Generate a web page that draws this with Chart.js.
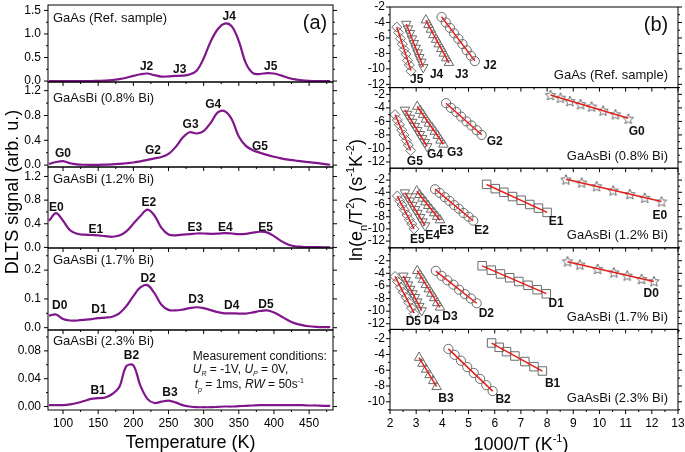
<!DOCTYPE html>
<html>
<head>
<meta charset="utf-8">
<script src="https://cdn.jsdelivr.net/npm/chart.js@4.4.1/dist/chart.umd.min.js"></script>
<style>
  html, body { margin: 0; padding: 0; background: #fff; }
  #wrap { position: relative; width: 685px; height: 452px; }
  #left { position: absolute; left: 0; top: 0; }
  #right { position: absolute; left: 340px; top: 0; }
</style>
</head>
<body>
<div id="wrap">
  <canvas id="left" width="340" height="452"></canvas>
  <canvas id="right" width="345" height="452"></canvas>
</div>
<script>
// ---- panel (a): DLTS spectra ----
const temperature = [80, 90, 100, 110, 120, 130, 140, 150, 160, 170, 180, 190, 200, 210, 220, 230, 240, 250, 260, 270,
  280, 290, 300, 310, 320, 330, 340, 350, 360, 370, 380, 390, 400, 410, 420, 430, 440, 450, 460, 470, 480];
const sigGaAs = [0, 0, 0, 0, 0, 0, 0, 0.005, 0.01, 0.02, 0.04, 0.07, 0.11, 0.145, 0.16, 0.125, 0.095, 0.1, 0.11, 0.115,
  0.14, 0.22, 0.48, 0.84, 1.1, 1.22, 1.16, 0.85, 0.38, 0.17, 0.15, 0.17, 0.16, 0.12, 0.07, 0.035, 0.015, 0.005, 0, 0, 0];
const sigBi08 = [0.02, 0.05, 0.065, 0.03, 0.012, 0.006, 0.005, 0.005, 0.008, 0.012, 0.02, 0.03, 0.042, 0.06, 0.085, 0.11, 0.13, 0.18, 0.29, 0.44,
  0.53, 0.51, 0.55, 0.68, 0.85, 0.87, 0.74, 0.46, 0.31, 0.24, 0.2, 0.165, 0.135, 0.11, 0.09, 0.075, 0.06, 0.048, 0.035, 0.02, 0.006];
const sigBi12 = [0.45, 0.58, 0.45, 0.29, 0.23, 0.215, 0.21, 0.205, 0.19, 0.18, 0.2, 0.27, 0.4, 0.53, 0.64, 0.54, 0.33, 0.22, 0.205, 0.215,
  0.225, 0.235, 0.235, 0.23, 0.232, 0.24, 0.235, 0.225, 0.23, 0.25, 0.265, 0.255, 0.19, 0.11, 0.05, 0.02, 0.01, 0.005, 0.004, 0.003, 0.003];
const sigBi17 = [0.042, 0.046, 0.03, 0.025, 0.025, 0.027, 0.03, 0.033, 0.035, 0.038, 0.05, 0.075, 0.11, 0.14, 0.148, 0.12, 0.08, 0.062, 0.06, 0.063,
  0.068, 0.071, 0.068, 0.061, 0.054, 0.05, 0.05, 0.049, 0.049, 0.053, 0.058, 0.06, 0.053, 0.04, 0.026, 0.015, 0.009, 0.005, 0.003, 0.002, 0.002];
const sigBi23 = [0.002, 0.002, 0.002, 0.003, 0.005, 0.008, 0.011, 0.012, 0.013, 0.018, 0.028, 0.058, 0.059, 0.03, 0.011, 0.005, 0.007, 0.0085, 0.006, 0.002,
  0, -0.001, -0.001, -0.001, -0.0005, 0, 0, 0.0005, 0.001, 0.0015, 0.002, 0.002, 0.002, 0.002, 0.002, 0.002, 0.002, 0.0015, 0.0015, 0.001, 0.001];

const peakLabelsA = [
  ['yA1', 218.8, 0.30, 'J2'], ['yA1', 266, 0.24, 'J3'], ['yA1', 336.4, 1.36, 'J4'], ['yA1', 395.4, 0.30, 'J5'],
  ['yA2', 100, 0.19, 'G0'], ['yA2', 228, 0.23, 'G2'], ['yA2', 281.4, 0.65, 'G3'], ['yA2', 313.6, 0.97, 'G4'], ['yA2', 380, 0.30, 'G5'],
  ['yA3', 90.6, 0.67, 'E0'], ['yA3', 146.5, 0.30, 'E1'], ['yA3', 222, 0.75, 'E2'], ['yA3', 287.6, 0.33, 'E3'], ['yA3', 331, 0.34, 'E4'], ['yA3', 388, 0.34, 'E5'],
  ['yA4', 95.3, 0.0755, 'D0'], ['yA4', 151, 0.062, 'D1'], ['yA4', 221, 0.172, 'D2'], ['yA4', 289, 0.096, 'D3'], ['yA4', 340, 0.0755, 'D4'], ['yA4', 388.7, 0.079, 'D5'],
  ['yA5', 149.8, 0.023, 'B1'], ['yA5', 197.4, 0.0725, 'B2'], ['yA5', 252, 0.020, 'B3'],
];

// ---- panel (b): Arrhenius plots, ln(e_n/T^2) vs 1000/T ----
const J5 = { x: [2.26, 2.33, 2.40, 2.47, 2.54, 2.61, 2.67, 2.74, 2.80], y: [-4.6, -5.3, -6.1, -6.8, -7.5, -8.1, -8.9, -9.5, -10.3] };
const J4 = { x: [2.62, 2.69, 2.76, 2.84, 2.91, 2.98, 3.05, 3.12, 3.20, 3.27], y: [-4.2, -4.8, -5.4, -6.1, -6.7, -7.3, -7.9, -8.5, -9.1, -9.8] };
const J3 = { x: [3.37, 3.47, 3.56, 3.66, 3.76, 3.86, 3.96, 4.05, 4.15, 4.25], y: [-3.7, -4.3, -4.9, -5.6, -6.2, -6.8, -7.4, -8.0, -8.6, -9.2] };
const J2 = { x: [3.97, 4.13, 4.29, 4.45, 4.61, 4.77, 4.93, 5.09, 5.24], y: [-3.3, -4.0, -4.7, -5.4, -6.1, -6.8, -7.6, -8.3, -9.0] };

const G0 = { x: [8.13, 8.51, 8.87, 9.28, 9.70, 10.14, 10.61, 11.10], y: [-2.1, -2.5, -3.0, -3.45, -3.8, -4.4, -4.95, -5.6] };
const G2 = { x: [4.14, 4.33, 4.53, 4.72, 4.92, 5.11, 5.31, 5.50], y: [-3.3, -4.0, -4.6, -5.3, -6.0, -6.6, -7.3, -8.0] };
const G3 = { x: [3.04, 3.15, 3.26, 3.37, 3.48, 3.60, 3.71, 3.82, 3.93, 4.04], y: [-3.8, -4.4, -5.0, -5.7, -6.3, -6.9, -7.5, -8.1, -8.8, -9.4] };
const G4 = { x: [2.57, 2.66, 2.76, 2.85, 2.95, 3.04, 3.14, 3.23, 3.33, 3.42], y: [-4.3, -4.9, -5.5, -6.1, -6.7, -7.3, -7.9, -8.5, -9.1, -9.7] };
const G5 = { x: [2.19, 2.28, 2.36, 2.45, 2.53, 2.62, 2.70, 2.79], y: [-5.0, -5.8, -6.5, -7.3, -8.0, -8.8, -9.5, -10.3] };

const E0 = { x: [8.72, 9.32, 9.89, 10.52, 11.16, 11.73, 12.37], y: [-1.9, -2.4, -3.0, -3.7, -4.3, -4.9, -5.5] };
const E1 = { x: [5.69, 6.02, 6.35, 6.68, 7.01, 7.34, 7.67, 8.0], y: [-2.7, -3.4, -4.0, -4.7, -5.3, -6.0, -6.6, -7.3] };
const E2 = { x: [3.72, 3.90, 4.09, 4.27, 4.45, 4.63, 4.81, 5.00, 5.18], y: [-3.5, -4.1, -4.8, -5.4, -6.1, -6.7, -7.4, -8.0, -8.65] };
const E3 = { x: [3.02, 3.13, 3.24, 3.35, 3.46, 3.57, 3.69, 3.80, 3.91], y: [-3.8, -4.4, -5.0, -5.6, -6.2, -6.8, -7.4, -8.0, -8.55] };
const E4 = { x: [2.57, 2.67, 2.76, 2.86, 2.96, 3.05, 3.15, 3.24, 3.34], y: [-4.05, -4.7, -5.4, -6.1, -6.8, -7.4, -8.1, -8.8, -9.45] };
const E5 = { x: [2.28, 2.37, 2.46, 2.55, 2.65, 2.74, 2.83, 2.92], y: [-4.6, -5.4, -6.1, -6.9, -7.7, -8.5, -9.2, -10.0] };

const D0 = { x: [8.78, 9.25, 9.93, 10.55, 11.06, 11.61, 12.08], y: [-2.1, -2.6, -3.3, -3.85, -4.35, -4.9, -5.25] };
const D1 = { x: [5.52, 5.87, 6.22, 6.57, 6.92, 7.27, 7.62, 7.97], y: [-2.8, -3.5, -4.1, -4.7, -5.3, -5.9, -6.6, -7.25] };
const D2 = { x: [3.75, 3.97, 4.19, 4.42, 4.64, 4.86, 5.09, 5.31], y: [-3.6, -4.4, -5.1, -5.8, -6.6, -7.3, -8.0, -8.75] };
const D3 = { x: [3.04, 3.15, 3.26, 3.37, 3.48, 3.58, 3.69, 3.80, 3.91], y: [-3.6, -4.3, -5.0, -5.8, -6.5, -7.2, -7.9, -8.7, -9.4] };
const D4 = { x: [2.51, 2.60, 2.69, 2.77, 2.86, 2.95, 3.04, 3.12, 3.21], y: [-4.4, -5.1, -5.8, -6.5, -7.2, -7.8, -8.5, -9.2, -9.9] };
const D5 = { x: [2.19, 2.29, 2.40, 2.50, 2.61, 2.71, 2.82, 2.92], y: [-4.5, -5.3, -6.2, -7.0, -7.8, -8.6, -9.5, -10.4] };

const B1 = { x: [5.88, 6.17, 6.45, 6.77, 7.15, 7.50, 7.82], y: [-2.55, -3.1, -3.65, -4.2, -4.9, -5.55, -6.1] };
const B2 = { x: [4.23, 4.47, 4.71, 4.95, 5.20, 5.44, 5.68, 5.92], y: [-3.3, -4.05, -4.8, -5.6, -6.35, -7.1, -7.9, -8.65] };
const B3 = { x: [3.11, 3.24, 3.38, 3.51, 3.65, 3.78], y: [-4.4, -5.15, -5.9, -6.6, -7.35, -8.1] };

const trapLabelsB = [
  ['yB1', 3.02, -11.43, 'J5'], ['yB1', 3.78, -10.7, 'J4'], ['yB1', 4.74, -10.7, 'J3'], ['yB1', 5.82, -9.6, 'J2'],
  ['yB2', 11.42, -7.49, 'G0'], ['yB2', 6.0, -9.06, 'G2'], ['yB2', 4.48, -10.57, 'G3'], ['yB2', 3.72, -10.9, 'G4'], ['yB2', 2.95, -11.9, 'G5'],
  ['yB3', 12.31, -7.83, 'E0'], ['yB3', 8.34, -8.9, 'E1'], ['yB3', 5.5, -10.27, 'E2'], ['yB3', 4.16, -10.27, 'E3'], ['yB3', 3.63, -11.1, 'E4'], ['yB3', 3.04, -11.8, 'E5'],
  ['yB4', 11.98, -7.26, 'D0'], ['yB4', 8.35, -8.84, 'D1'], ['yB4', 5.68, -10.41, 'D2'], ['yB4', 4.29, -10.95, 'D3'], ['yB4', 3.59, -11.47, 'D4'], ['yB4', 2.89, -11.74, 'D5'],
  ['yB5', 8.21, -7.76, 'B1'], ['yB5', 6.32, -9.7, 'B2'], ['yB5', 4.14, -9.57, 'B3'],
];

const FONT = '"Liberation Sans", Arial, Helvetica, sans-serif';
const PURPLE = '#80168c';
const RED = '#e3201b';
const GRAY = '#6b6b6b';

const leftPanels = [
  { id: 'yA1', data: sigGaAs, min: -0.02, max: 1.615, step: 0.25, major: 0.5, dec: 1, h: 77, title: 'GaAs (Ref. sample)', dy: 13 },
  { id: 'yA2', data: sigBi08, min: -0.03, max: 1.34, step: 0.2, major: 0.4, dec: 1, h: 85, title: 'GaAsBi (0.8% Bi)', dy: 16 },
  { id: 'yA3', data: sigBi12, min: -0.01, max: 1.36, step: 0.2, major: 0.4, dec: 1, h: 81, title: 'GaAsBi (1.2% Bi)', dy: 12 },
  { id: 'yA4', data: sigBi17, min: -0.008, max: 0.277, step: 0.05, major: 0.1, dec: 1, h: 82, title: 'GaAsBi (1.7% Bi)', dy: 12 },
  { id: 'yA5', data: sigBi23, min: -0.005, max: 0.11, step: 0.02, major: 0.04, dec: 2, h: 80, title: 'GaAsBi (2.3% Bi)', dy: 11 },
];
const rightPanels = [
  { id: 'yB1', series: [J5, J4, J3, J2], min: -12.42, max: -2, h: 81, title: 'GaAs (Ref. sample)' },
  { id: 'yB2', series: [G5, G4, G3, G2, G0], min: -12.92, max: -1.0, h: 81, title: 'GaAsBi (0.8% Bi)' },
  { id: 'yB3', series: [E5, E4, E3, E2, E1, E0], min: -13.1, max: -0.05, h: 80, title: 'GaAsBi (1.2% Bi)' },
  { id: 'yB4', series: [D5, D4, D3, D2, D1, D0], min: -12.9, max: 0.05, h: 82, title: 'GaAsBi (1.7% Bi)' },
  { id: 'yB5', series: [B3, B2, B1], min: -11.04, max: -0.83, h: 81, title: 'GaAsBi (2.3% Bi)' },
];
// marker kind by trap: 5 diamond, 4 down triangle, 3 up triangle, 2 circle, 1 square, 0 star
const markerKinds = new Map([
  [J5, 5], [J4, 4], [J3, 3], [J2, 2],
  [G5, 5], [G4, 4], [G3, 3], [G2, 2], [G0, 0],
  [E5, 5], [E4, 4], [E3, 3], [E2, 2], [E1, 1], [E0, 0],
  [D5, 5], [D4, 4], [D3, 3], [D2, 2], [D1, 1], [D0, 0],
  [B3, 3], [B2, 2], [B1, 1],
]);

function starCanvas(r) {
  const c = document.createElement('canvas');
  const s = Math.ceil(r * 2 + 3);
  c.width = c.height = s;
  const g = c.getContext('2d');
  g.strokeStyle = GRAY; g.lineWidth = 1;
  g.beginPath();
  for (let i = 0; i < 10; i++) {
    const rr = i % 2 ? r * 0.45 : r;
    const a = -Math.PI / 2 + i * Math.PI / 5;
    g.lineTo(s / 2 + rr * Math.cos(a), s / 2 + 0.5 + rr * Math.sin(a));
  }
  g.closePath(); g.stroke();
  return c;
}
const markerStyles = {
  0: { pointStyle: starCanvas(5.5), pointRadius: 6, pointRotation: 0 },
  1: { pointStyle: 'rect', pointRadius: 6, pointRotation: 0 },
  2: { pointStyle: 'circle', pointRadius: 4.6, pointRotation: 0 },
  3: { pointStyle: 'triangle', pointRadius: 5.5, pointRotation: 0 },
  4: { pointStyle: 'triangle', pointRadius: 5.5, pointRotation: 180 },
  5: { pointStyle: 'rectRot', pointRadius: 5, pointRotation: 0 },
};

function fitLine(s) {
  const n = s.x.length;
  const mx = s.x.reduce((a, b) => a + b, 0) / n, my = s.y.reduce((a, b) => a + b, 0) / n;
  let sxy = 0, sxx = 0;
  s.x.forEach((x, i) => { sxy += (x - mx) * (s.y[i] - my); sxx += (x - mx) * (x - mx); });
  const b = sxy / sxx, a = my - b * mx;
  const x0 = Math.min(...s.x), x1 = Math.max(...s.x);
  return [{ x: x0, y: a + b * x0 }, { x: x1, y: a + b * x1 }];
}

const isMajor = (v, m) => Math.abs(v / m - Math.round(v / m)) < 1e-6;

function richDraw(ctx, segs, x, y, size, align) {
  const fontOf = s => `${s.i ? 'italic ' : ''}${s.b ? 'bold ' : ''}${(s.sub || s.sup) ? Math.round(size * 0.62) : size}px ${FONT}`;
  let w = 0;
  segs.forEach(s => { ctx.font = fontOf(s); w += ctx.measureText(s.t).width; });
  let cx = align === 'center' ? x - w / 2 : align === 'right' ? x - w : x;
  ctx.textAlign = 'left'; ctx.textBaseline = 'alphabetic';
  segs.forEach(s => {
    ctx.font = fontOf(s);
    const dy = s.sub ? size * 0.28 : s.sup ? -size * 0.42 : 0;
    ctx.fillText(s.t, cx, y + dy);
    cx += ctx.measureText(s.t).width;
  });
}

// frames, ticks (major/minor, mirrored) and texts
function makeDecor(panels, drawTexts) {
  return {
    id: 'decor',
    afterDraw(chart) {
      const ctx = chart.ctx, area = chart.chartArea, xs = chart.scales.x;
      const seg = (x1, y1, x2, y2) => { ctx.beginPath(); ctx.moveTo(x1, y1); ctx.lineTo(x2, y2); ctx.stroke(); };
      ctx.save();
      ctx.strokeStyle = '#000'; ctx.lineWidth = 1;
      panels.forEach(p => {
        const s = chart.scales[p.id];
        ctx.strokeRect(area.left, s.top, area.right - area.left, s.bottom - s.top);
        s.ticks.forEach(t => {
          const py = s.getPixelForValue(t.value);
          if (py < s.top - 0.5 || py > s.bottom + 0.5) return;
          const len = t.label ? 4 : 2;
          seg(area.left - len, py, area.left, py);
          seg(area.right, py, area.right + len, py);
        });
        xs.ticks.forEach(t => {
          const px = xs.getPixelForValue(t.value);
          seg(px, s.bottom, px, s.bottom + (t.label ? 4 : 2));
        });
      });
      ctx.fillStyle = '#111';
      drawTexts(ctx, chart, area);
      ctx.restore();
    }
  };
}

function peakText(ctx, chart, list) {
  ctx.font = `bold 12px ${FONT}`;
  ctx.textAlign = 'center'; ctx.textBaseline = 'middle';
  list.forEach(([id, x, y, t]) => {
    ctx.fillText(t, chart.scales.x.getPixelForValue(x), chart.scales[id].getPixelForValue(y));
  });
}

function yAxis(p, order, o) {
  return {
    type: 'linear', position: 'left', stack: 'panels', stackWeight: p.h, weight: 10 - order,
    min: p.min, max: p.max,
    grid: { display: false, drawTicks: false }, border: { display: false },
    ticks: {
      stepSize: o.step, autoSkip: false, includeBounds: false, padding: o.pad, color: '#000',
      font: { family: FONT, size: 12 }, callback: o.label
    },
    afterFit: s => { s.width = 44; s.paddingTop = 0; s.paddingBottom = 0; }
  };
}

// ---------- left chart (a) ----------
const leftScales = {
  x: {
    type: 'linear', position: 'bottom', min: 78.6, max: 484,
    grid: { display: false, drawTicks: false }, border: { display: false },
    ticks: { stepSize: 25, autoSkip: false, includeBounds: false, maxRotation: 0, padding: 6, color: '#000',
      font: { family: FONT, size: 12 }, callback: v => v % 50 === 0 ? String(v) : '' },
    afterFit: s => { s.height = 42; s.paddingLeft = 0; s.paddingRight = 0; }
  }
};
leftPanels.forEach((p, i) => {
  leftScales[p.id] = yAxis(p, i, { step: p.step, pad: 7, label: v => isMajor(v, p.major) ? v.toFixed(p.dec) : '' });
});

new Chart(document.getElementById('left'), {
  type: 'scatter',
  data: {
    datasets: leftPanels.map(p => ({
      data: temperature.map((t, i) => ({ x: t, y: p.data[i] })),
      yAxisID: p.id, showLine: true, borderColor: PURPLE, borderWidth: 2.2,
      pointRadius: 0, tension: 0.35
    }))
  },
  options: {
    responsive: false, animation: false, events: [],
    layout: { padding: { left: 4, right: 7, top: 5, bottom: 0 } },
    plugins: { legend: { display: false }, tooltip: { enabled: false } },
    scales: leftScales
  },
  plugins: [makeDecor(leftPanels, (ctx, chart, area) => {
    ctx.font = `13px ${FONT}`; ctx.textAlign = 'left'; ctx.textBaseline = 'middle';
    leftPanels.forEach(p => ctx.fillText(p.title, area.left + 5, chart.scales[p.id].top + p.dy));
    ctx.font = `20px ${FONT}`; ctx.textAlign = 'center';
    ctx.fillText('(a)', area.right - 18, area.top + 18);
    peakText(ctx, chart, peakLabelsA);
    // measurement conditions
    const px = chart.scales.x.getPixelForValue(284.5), y5 = chart.scales.yA5;
    richDraw(ctx, [{ t: 'Measurement conditions:' }], px, y5.getPixelForValue(0.0725) + 4, 12, 'left');
    richDraw(ctx, [{ t: 'U', i: 1 }, { t: 'R', i: 1, sub: 1 }, { t: ' = -1V, ' }, { t: 'U', i: 1 }, { t: 'P', i: 1, sub: 1 }, { t: ' = 0V,' }],
      px, y5.getPixelForValue(0.054) + 4, 12, 'left');
    richDraw(ctx, [{ t: 't', i: 1 }, { t: 'p', i: 1, sub: 1 }, { t: ' = 1ms, ' }, { t: 'RW', i: 1 }, { t: ' = 50s' }, { t: '-1', sup: 1 }],
      px + 2, y5.getPixelForValue(0.032) + 4, 12, 'left');
    // axis titles
    ctx.fillStyle = '#000';
    ctx.font = `18px ${FONT}`; ctx.textAlign = 'center'; ctx.textBaseline = 'middle';
    ctx.fillText('Temperature (K)', (area.left + area.right) / 2, 443);
    ctx.save(); ctx.translate(13, 192); ctx.rotate(-Math.PI / 2);
    ctx.fillText('DLTS signal (arb. u.)', 0, 0); ctx.restore();
  })]
});

// ---------- right chart (b) ----------
const rightScales = {
  x: {
    type: 'linear', position: 'bottom', min: 2, max: 13,
    grid: { display: false, drawTicks: false }, border: { display: false },
    ticks: { stepSize: 0.5, autoSkip: false, includeBounds: false, maxRotation: 0, padding: 6, color: '#000',
      font: { family: FONT, size: 12 }, callback: v => Number.isInteger(v) ? String(v) : '' },
    afterFit: s => { s.height = 42; s.paddingLeft = 0; s.paddingRight = 0; }
  }
};
rightPanels.forEach((p, i) => {
  rightScales[p.id] = yAxis(p, i, { step: 1, pad: 5, label: v => (v % 2 === 0 && v <= -2 && v >= -12) ? String(v) : '' });
});

const rightDatasets = [];
rightPanels.forEach(p => {
  p.series.forEach(s => {
    rightDatasets.push({
      data: s.x.map((x, i) => ({ x, y: s.y[i] })), yAxisID: p.id, showLine: false, order: 1,
      pointBorderColor: GRAY, pointBackgroundColor: 'rgba(255,255,255,0)', pointBorderWidth: 1,
      ...markerStyles[markerKinds.get(s)]
    });
    rightDatasets.push({
      data: fitLine(s), yAxisID: p.id, showLine: true, order: 0,
      borderColor: RED, borderWidth: 1.5, pointRadius: 0
    });
  });
});

new Chart(document.getElementById('right'), {
  type: 'scatter',
  data: { datasets: rightDatasets },
  options: {
    responsive: false, animation: false, events: [],
    layout: { padding: { left: 6, right: 7, top: 5, bottom: 0 } },
    plugins: { legend: { display: false }, tooltip: { enabled: false } },
    scales: rightScales
  },
  plugins: [makeDecor(rightPanels, (ctx, chart, area) => {
    ctx.font = `13px ${FONT}`; ctx.textAlign = 'right'; ctx.textBaseline = 'middle';
    rightPanels.forEach(p => ctx.fillText(p.title, area.right - 10, chart.scales[p.id].bottom - 12));
    ctx.font = `20px ${FONT}`; ctx.textAlign = 'center';
    ctx.fillText('(b)', area.right - 22, area.top + 18);
    peakText(ctx, chart, trapLabelsB);
    ctx.fillStyle = '#000';
    richDraw(ctx, [{ t: '1000/T (K' }, { t: '-1', sup: 1 }, { t: ')' }], 181, 449.5, 18, 'center');
    ctx.save(); ctx.translate(15, 200); ctx.rotate(-Math.PI / 2);
    richDraw(ctx, [{ t: 'ln(e' }, { t: 'n', sub: 1 }, { t: '/T' }, { t: '2', sup: 1 }, { t: ') (s' }, { t: '-1', sup: 1 },
      { t: 'K' }, { t: '-2', sup: 1 }, { t: ')' }], 0, 6.5, 18, 'center');
    ctx.restore();
  })]
});
</script>
</body>
</html>
